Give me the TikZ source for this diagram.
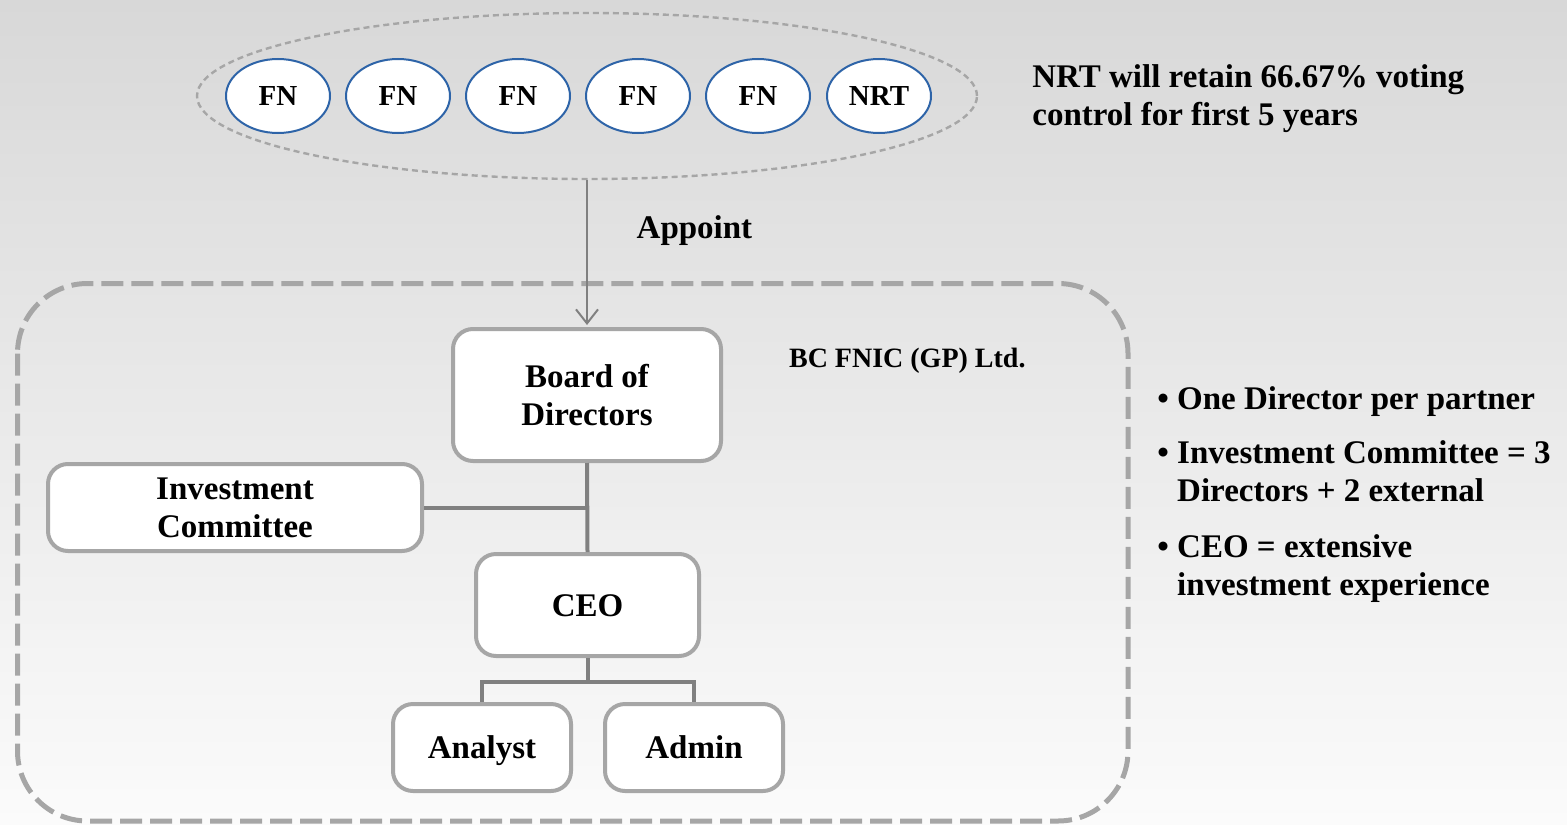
\documentclass[tikz,border=0pt]{standalone}
\usepackage{fontspec}
\setmainfont{Liberation Serif}
\usetikzlibrary{arrows.meta, positioning, shapes.geometric}
\definecolor{mBgTop}{HTML}{D8D8D8}
\definecolor{mBgBot}{HTML}{FBFBFB}
\definecolor{mBlue}{HTML}{2E64A8}
\definecolor{mDash}{HTML}{A6A6A6}
\definecolor{mLine}{HTML}{808080}

\begin{document}
\begin{tikzpicture}[x=50pt, y=50pt,
      >={Straight Barb[length=7pt, width=11pt]},
      font=\bfseries\fontsize{16.5}{19}\selectfont,
      ptn/.style={ellipse, draw=mBlue, line width=1pt, fill=white,
                  minimum width=52pt, minimum height=37pt, inner sep=0pt,
                  font=\bfseries\fontsize{14.5}{17}\selectfont},
      box/.style={rectangle, rounded corners=10pt, draw=mDash, line width=2pt,
                  fill=white, align=center, inner sep=0pt},
      one/.style={text height=12pt, text depth=1pt},
      link/.style={draw=mLine, line width=2pt},
      note/.style={align=left, inner sep=0pt, anchor=west}]
    \shade[top color=mBgTop, bottom color=mBgBot] (0,0) rectangle (15.67,-8.24);

    % partners
    \node[ellipse, draw=mDash, line width=1.2pt, dash pattern=on 3pt off 2pt,
          minimum width=390pt, minimum height=83pt] (grp) at (5.87,-0.96) {};
    \foreach \i/\x/\t in {1/2.78/FN, 2/3.98/FN, 3/5.18/FN, 4/6.38/FN,
                          5/7.58/FN, 6/8.79/NRT}
      \node[ptn] (p\i) at (\x,-0.96) {\t};
    \node[note] (ctl) at (10.32,-0.99) {NRT will retain 66.67\% voting\\
                                         control for first 5 years};

    % general partner
    \draw[mDash, line width=2.5pt, dash pattern=on 11pt off 4pt,
          rounded corners=35pt] (0.175,-2.835) rectangle (11.28,-8.21);
    \node[anchor=base west, font=\bfseries\fontsize{14}{16}\selectfont]
      (gp) at (7.82,-3.67) {BC FNIC (GP) Ltd.};

    \node[box, minimum width=134pt, minimum height=66pt] (bod) at (5.87,-3.95)
      {Board of\\Directors};
    \node[box, minimum width=187pt, minimum height=43.5pt] (ic) at (2.35,-5.075)
      {Investment\\Committee};
    \node[box, one, minimum width=111.5pt, minimum height=51pt] (ceo) at (5.875,-6.05)
      {CEO};
    \node[box, one, minimum width=89pt, minimum height=43.5pt] (ana) at (4.82,-7.475)
      {Analyst};
    \node[box, one, minimum width=89pt, minimum height=43.5pt, right=15pt of ana] (adm)
      {Admin};

    \draw[->, mLine, line width=1pt, shorten >=1pt] (grp.south) --
      node[pos=0.34, right=21pt, text=black] (apt) {Appoint} (bod.north);
    \draw[link] (bod.south) -- (ceo.north);
    \draw[link] (ic.east) -- (ic.east -| bod.south);
    \draw[link] (ceo.south) -- ++(0,-12pt) coordinate (fork) -| (ana.north);
    \draw[link] (fork) -| (adm.north);

    % notes
    \node[note] (b1) at (11.57,-4.02) {\textbullet\ One Director per partner};
    \node[note] (b2) at (11.57,-4.71) {\textbullet\ Investment Committee = 3\\
                                       \phantom{\textbullet\ }Directors + 2 external};
    \node[note] (b3) at (11.57,-5.69) {\textbullet\ CEO = extensive\\
                                       \phantom{\textbullet\ }investment experience};
  \end{tikzpicture}
\end{document}
